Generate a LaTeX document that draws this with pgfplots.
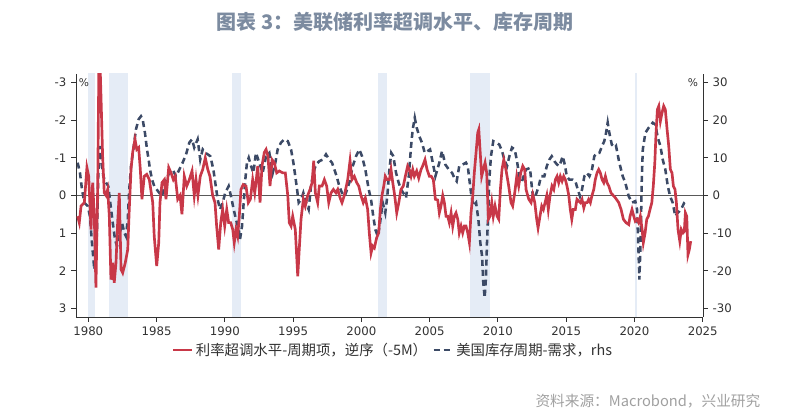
\documentclass[border=0pt]{standalone}
\usepackage{fontspec}
\usepackage{pgfplots}
\pgfplotsset{compat=1.18}
\newfontfamily\dejavu{DejaVu Sans}
\newfontfamily\cjk{Noto Sans CJK SC}
\definecolor{redline}{RGB}{200,56,72}
\definecolor{blueline}{RGB}{60,74,102}
\definecolor{recess}{RGB}{229,236,246}
\definecolor{titlec}{RGB}{124,139,160}
\definecolor{srcc}{RGB}{160,160,160}
\definecolor{axc}{RGB}{50,50,50}
\begin{document}
\begin{tikzpicture}
\useasboundingbox (0,0) rectangle (593.25pt,315pt);
\pgfplotsset{base/.style={
  scale only axis, width=470.25pt, height=182.25pt,
  at={(57pt,77.25pt)}, anchor=south west,
  xmin=1979.1, xmax=2025.02,
  axis line style={draw=axc, line width=0.7pt},
  tick style={draw=axc, line width=0.7pt},
  major tick length=3.75pt, tick align=outside,
  ticklabel style={font=\dejavu\fontsize{8.8}{10}\selectfont, text=axc},
  /pgf/number format/assume math mode=true,
  /pgf/number format/1000 sep={},
}}
% right axis: inventory cycle (blue dashed) + recessions
\begin{axis}[base, axis y line*=right, axis x line*=bottom,
  ymin=-32.2, ymax=32.2, ytick={-30,-20,...,30},
  xtick={1980,1985,...,2025}]
\addplot[fill=recess, draw=none, forget plot] coordinates {(1980.0,-40) (1980.5,-40) (1980.5,40) (1980.0,40)} -- cycle;
\addplot[fill=recess, draw=none, forget plot] coordinates {(1981.55,-40) (1982.9,-40) (1982.9,40) (1981.55,40)} -- cycle;
\addplot[fill=recess, draw=none, forget plot] coordinates {(1990.5,-40) (1991.15,-40) (1991.15,40) (1990.5,40)} -- cycle;
\addplot[fill=recess, draw=none, forget plot] coordinates {(2001.2,-40) (2001.85,-40) (2001.85,40) (2001.2,40)} -- cycle;
\addplot[fill=recess, draw=none, forget plot] coordinates {(2007.92,-40) (2009.4,-40) (2009.4,40) (2007.92,40)} -- cycle;
\addplot[fill=recess, draw=none, forget plot] coordinates {(2020.05,-40) (2020.22,-40) (2020.22,40) (2020.05,40)} -- cycle;
\addplot[black!65, line width=0.6pt, forget plot] coordinates {(1979.1,0) (2025.02,0)};
\addplot[blueline, line width=1.9pt, dash pattern=on 4.5pt off 3pt, forget plot] coordinates {
(1979.22,8.7)(1979.39,6.0)(1979.54,1.6)(1979.71,-1.9)(1979.96,-2.8)(1980.12,-5.5)(1980.27,-12.5)(1980.44,-19.6)(1980.56,-16.1)(1980.64,-9.0)(1980.73,5.1)(1980.86,13.1)(1980.98,8.7)(1981.10,5.1)(1981.30,3.4)(1981.46,2.5)(1981.61,-1.9)(1981.79,-7.2)(1981.96,-11.7)(1982.10,-13.4)(1982.27,-10.8)(1982.47,-7.2)(1982.64,-9.9)(1982.76,-10.8)(1982.89,-6.4)(1983.00,1.6)(1983.13,7.8)(1983.30,12.2)(1983.49,17.5)(1983.69,20.2)(1983.86,21.0)(1983.98,20.2)(1984.15,16.6)(1984.30,12.2)(1984.42,9.5)(1984.52,6.9)(1984.67,4.2)(1984.83,2.5)(1985.01,1.6)(1985.20,0.7)(1985.40,-0.2)(1985.57,2.5)(1985.69,4.2)(1985.93,6.0)(1986.18,6.9)(1986.42,5.1)(1986.67,6.9)(1986.91,8.7)(1987.16,10.9)(1987.40,14.0)(1987.60,14.9)(1987.76,12.7)(1988.01,14.9)(1988.20,9.5)(1988.38,12.2)(1988.57,11.3)(1988.75,10.9)(1988.94,10.4)(1989.16,6.9)(1989.30,3.4)(1989.48,-1.1)(1989.65,-3.7)(1989.84,-1.9)(1990.03,0.7)(1990.28,2.5)(1990.45,-0.2)(1990.65,-3.7)(1990.82,-6.4)(1991.02,-9.0)(1991.11,-11.7)(1991.26,-8.1)(1991.38,-1.9)(1991.50,4.2)(1991.62,8.7)(1991.75,10.0)(1991.92,7.8)(1992.09,6.0)(1992.28,11.3)(1992.52,8.7)(1992.77,6.0)(1993.02,10.4)(1993.26,11.3)(1993.51,6.0)(1993.70,8.7)(1993.87,12.2)(1994.11,14.0)(1994.36,14.9)(1994.61,14.4)(1994.85,12.2)(1995.02,8.7)(1995.16,5.1)(1995.29,1.6)(1995.41,-1.9)(1995.58,-1.1)(1995.75,0.7)(1995.95,-1.9)(1996.14,-3.7)(1996.31,2.5)(1996.48,6.0)(1996.68,8.2)(1996.92,9.1)(1997.17,9.5)(1997.41,10.9)(1997.65,9.5)(1997.85,8.7)(1998.02,6.9)(1998.19,5.1)(1998.38,2.5)(1998.58,0.7)(1998.78,-0.2)(1999.12,3.4)(1999.37,7.8)(1999.61,10.4)(1999.85,12.2)(2000.05,10.4)(2000.29,6.9)(2000.54,1.6)(2000.71,-1.1)(2000.87,-5.5)(2001.02,-9.0)(2001.20,-10.8)(2001.37,-7.2)(2001.56,-1.9)(2001.75,-4.6)(2001.90,-0.2)(2002.05,6.9)(2002.19,11.3)(2002.34,10.4)(2002.54,6.0)(2002.73,3.4)(2002.90,1.6)(2003.07,0.7)(2003.27,-0.6)(2003.47,5.1)(2003.64,13.1)(2003.76,17.5)(2003.91,20.6)(2004.05,18.0)(2004.24,15.7)(2004.44,14.0)(2004.64,11.3)(2004.86,11.8)(2005.03,12.2)(2005.23,8.7)(2005.42,5.1)(2005.71,8.7)(2005.91,11.8)(2006.15,8.2)(2006.40,6.9)(2006.64,6.0)(2006.81,4.7)(2006.98,3.8)(2007.17,7.8)(2007.42,8.2)(2007.66,8.7)(2007.79,7.8)(2007.91,4.2)(2008.03,0.7)(2008.20,-2.8)(2008.40,-1.9)(2008.57,-6.4)(2008.71,-12.5)(2008.84,-16.1)(2008.93,-23.2)(2009.03,-27.1)(2009.13,-21.4)(2009.20,-12.5)(2009.30,-3.7)(2009.37,4.2)(2009.49,10.4)(2009.66,14.4)(2009.86,14.0)(2010.10,13.5)(2010.30,11.8)(2010.47,9.5)(2010.67,7.8)(2010.84,10.4)(2011.03,12.7)(2011.23,12.2)(2011.38,9.5)(2011.57,5.1)(2011.77,3.8)(2011.96,6.0)(2012.06,6.9)(2012.35,7.3)(2012.50,1.6)(2012.59,-0.6)(2012.79,0.3)(2012.99,2.5)(2013.16,5.1)(2013.40,5.1)(2013.58,7.8)(2013.77,9.5)(2013.94,10.4)(2014.13,9.1)(2014.33,8.2)(2014.50,7.8)(2014.75,10.4)(2014.92,7.8)(2015.04,5.1)(2015.23,4.2)(2015.48,4.2)(2015.67,3.8)(2015.85,1.6)(2016.01,-0.2)(2016.16,1.6)(2016.33,5.1)(2016.51,6.0)(2016.70,5.1)(2016.89,6.9)(2017.06,10.4)(2017.24,11.3)(2017.43,11.3)(2017.63,13.1)(2017.79,14.4)(2017.92,16.6)(2018.04,19.3)(2018.16,16.6)(2018.34,13.5)(2018.56,12.7)(2018.65,13.1)(2018.89,8.7)(2019.14,5.1)(2019.33,3.4)(2019.58,-0.2)(2019.82,-1.9)(2020.06,-1.5)(2020.19,-3.7)(2020.26,-10.8)(2020.36,-22.3)(2020.46,-10.8)(2020.53,3.4)(2020.61,12.2)(2020.80,16.6)(2021.05,18.0)(2021.34,19.3)(2021.53,18.8)(2021.71,15.3)(2021.90,13.1)(2022.07,9.5)(2022.26,6.9)(2022.44,2.5)(2022.61,-0.2)(2022.80,-1.9)(2022.99,-5.5)(2023.17,-4.6)(2023.41,-3.7)(2023.65,-1.9)(2023.77,-1.5)
};
\node[font=\dejavu\fontsize{8}{9}\selectfont, text=axc] at (rel axis cs:0.984,0.965) {\%};
\end{axis}
% left axis: rate overshoot (red, reversed)
\begin{axis}[base, axis y line*=left, axis x line=none, y dir=reverse,
  ymin=-3.22, ymax=3.22, ytick={-3,-2,-1,0,1,2,3},
  legend style={at={(axis description cs:0.506,-0.136)}, anchor=center, draw=none, fill=none,
    font=\cjk\fontsize{10.8}{12}\selectfont, text=axc,
    /tikz/every even column/.append style={column sep=2pt}},
  legend columns=2,
  legend image code/.code={\draw[#1] (0pt,0pt) -- (14pt,0pt);}]
\addplot[redline, line width=2pt] coordinates {
(1979.22,0.55)(1979.34,0.72)(1979.47,0.28)(1979.71,0.19)(1979.90,-0.74)(1980.03,-0.51)(1980.20,0.9)(1980.32,-0.34)(1980.44,0.55)(1980.56,2.44)(1980.69,-0.25)(1980.78,-3.6)(1980.86,-3.5)(1980.93,-2.63)(1981.05,-1.04)(1981.17,-0.07)(1981.30,0)(1981.42,-0.16)(1981.54,0.55)(1981.66,2.23)(1981.79,1.78)(1981.90,2.31)(1982.03,1.78)(1982.15,0.72)(1982.27,-0.07)(1982.40,1.96)(1982.52,2.05)(1982.71,1.78)(1982.89,1.43)(1983.00,0.37)(1983.13,-0.69)(1983.25,-1.14)(1983.42,-1.49)(1983.55,-1.22)(1983.69,-1.27)(1983.81,-0.69)(1983.93,0.1)(1984.10,-0.51)(1984.28,-0.56)(1984.47,-0.42)(1984.72,0.19)(1984.83,1.08)(1985.01,1.87)(1985.16,1.25)(1985.25,0.19)(1985.40,-0.34)(1985.57,-0.42)(1985.69,0.1)(1985.89,-0.74)(1986.06,-0.6)(1986.23,-0.42)(1986.37,-0.51)(1986.55,0.1)(1986.72,0)(1986.86,0.5)(1987.03,-0.51)(1987.21,-0.25)(1987.40,-0.42)(1987.60,-0.65)(1987.76,0)(1987.89,-0.42)(1988.03,0)(1988.20,-0.51)(1988.38,-0.69)(1988.57,-1.0)(1988.75,-0.69)(1988.91,-0.51)(1989.11,0)(1989.28,0.19)(1989.40,0.81)(1989.55,1.43)(1989.70,0.72)(1989.84,0.37)(1989.99,0.81)(1990.14,0.37)(1990.28,0.72)(1990.43,0.72)(1990.58,0.9)(1990.69,1.25)(1990.82,0.9)(1990.94,1.08)(1991.06,0.55)(1991.18,-0.16)(1991.35,-0.29)(1991.55,-0.25)(1991.72,0.19)(1991.87,0.1)(1992.04,-0.42)(1992.19,-0.07)(1992.28,-0.34)(1992.41,-0.78)(1992.58,0.19)(1992.72,-0.78)(1992.89,-1.14)(1993.02,-1.22)(1993.16,-1.04)(1993.31,-0.25)(1993.46,-0.95)(1993.62,-0.87)(1993.80,-0.6)(1993.99,-0.65)(1994.24,-0.6)(1994.43,-0.6)(1994.61,0)(1994.72,0.72)(1994.85,0.81)(1994.97,0.55)(1995.16,0.9)(1995.34,2.14)(1995.45,1.43)(1995.58,0.63)(1995.75,0.1)(1995.89,0.28)(1996.07,0)(1996.24,-0.16)(1996.39,-0.34)(1996.51,-0.92)(1996.63,-0.07)(1996.80,0.19)(1996.92,-0.25)(1997.12,-0.25)(1997.29,-0.42)(1997.46,-0.25)(1997.61,0.19)(1997.78,-0.07)(1997.95,-0.16)(1998.14,-0.07)(1998.27,-0.16)(1998.44,0.06)(1998.58,0.19)(1998.75,0)(1999.00,-0.42)(1999.17,-0.92)(1999.31,-0.42)(1999.48,-0.51)(1999.66,-0.34)(1999.81,-0.25)(1999.97,0)(2000.14,0.19)(2000.29,0.06)(2000.46,0.37)(2000.58,0.99)(2000.71,1.52)(2000.83,1.34)(2000.95,1.39)(2001.12,1.12)(2001.27,0.99)(2001.39,0.37)(2001.51,0)(2001.64,-0.25)(2001.75,-0.51)(2001.88,-0.42)(2002.05,-0.42)(2002.17,-0.69)(2002.30,-0.34)(2002.44,0)(2002.59,0.46)(2002.74,0.19)(2002.90,-0.16)(2003.07,-0.25)(2003.22,-0.51)(2003.39,-0.78)(2003.51,-0.69)(2003.64,-0.51)(2003.76,-0.69)(2003.88,-0.51)(2004.05,-0.65)(2004.20,-0.46)(2004.37,-0.69)(2004.49,-0.78)(2004.66,-0.95)(2004.81,-0.69)(2004.98,-0.51)(2005.12,-0.51)(2005.27,-0.42)(2005.42,0.1)(2005.59,0.12)(2005.71,0.46)(2005.83,0.28)(2005.96,0)(2006.08,0.19)(2006.20,0.55)(2006.32,0.55)(2006.44,0.72)(2006.57,0.46)(2006.69,0.81)(2006.81,0.55)(2006.93,0.46)(2007.06,0.63)(2007.17,0.99)(2007.30,0.81)(2007.42,0.99)(2007.54,0.81)(2007.66,0.81)(2007.79,0.99)(2007.91,1.25)(2008.03,0.46)(2008.16,0)(2008.27,-0.6)(2008.40,-1.14)(2008.52,-1.66)(2008.60,-1.75)(2008.69,-1.22)(2008.81,-0.51)(2008.93,-0.69)(2009.06,-0.87)(2009.18,-0.6)(2009.30,0.63)(2009.42,0.55)(2009.55,0.19)(2009.66,0.55)(2009.79,0.28)(2009.94,0.55)(2010.06,0.63)(2010.18,-0.16)(2010.30,-0.69)(2010.43,-0.95)(2010.54,-0.78)(2010.67,-0.51)(2010.79,-0.25)(2010.96,0.19)(2011.08,0.28)(2011.23,-0.07)(2011.38,-0.51)(2011.52,-0.25)(2011.67,-0.6)(2011.82,-0.78)(2011.96,-0.69)(2012.06,-0.16)(2012.26,0.1)(2012.43,0.19)(2012.55,-0.03)(2012.70,0.19)(2012.84,0.63)(2012.94,0.86)(2013.08,0.55)(2013.21,0.28)(2013.33,0.37)(2013.45,0.19)(2013.58,0)(2013.69,0.37)(2013.82,0)(2013.96,-0.25)(2014.09,-0.16)(2014.21,-0.42)(2014.33,-0.51)(2014.45,-0.34)(2014.57,-0.51)(2014.70,-0.38)(2014.82,-0.51)(2014.94,-0.42)(2015.06,-0.25)(2015.19,0)(2015.30,0.37)(2015.41,0.63)(2015.52,0.37)(2015.67,0.37)(2015.79,0.1)(2015.92,0.15)(2016.04,0.19)(2016.16,0.1)(2016.29,0.33)(2016.40,0.19)(2016.53,0.19)(2016.65,0.1)(2016.77,0.19)(2016.89,0)(2017.02,-0.16)(2017.13,-0.42)(2017.26,-0.6)(2017.38,-0.69)(2017.50,-0.6)(2017.63,-0.42)(2017.75,-0.34)(2017.87,-0.51)(2017.99,-0.34)(2018.12,-0.25)(2018.28,-0.07)(2018.45,0)(2018.60,0.06)(2018.85,0.19)(2019.02,0.37)(2019.19,0.63)(2019.38,0.72)(2019.58,0.77)(2019.68,0.55)(2019.82,0.37)(2019.95,0.55)(2020.06,0.68)(2020.19,0.63)(2020.31,0.72)(2020.43,0.55)(2020.56,0.9)(2020.65,1.25)(2020.78,0.99)(2020.90,0.63)(2021.02,0.55)(2021.14,0.37)(2021.27,0.19)(2021.38,-0.25)(2021.49,-0.87)(2021.58,-1.66)(2021.68,-2.28)(2021.78,-2.37)(2021.90,-1.97)(2022.02,-2.19)(2022.14,-2.37)(2022.26,-2.28)(2022.39,-1.75)(2022.51,-1.31)(2022.63,-0.69)(2022.75,-0.6)(2022.85,-0.25)(2022.97,-0.16)(2023.07,0.19)(2023.19,0.9)(2023.32,1.21)(2023.43,0.9)(2023.56,0.99)(2023.65,0.95)(2023.73,0.46)(2023.83,0.55)(2023.92,1.57)(2024.02,1.43)(2024.12,1.21)
};
\addlegendentry{利率超调水平-周期项，逆序（-5M）}
\addlegendimage{blueline, line width=1.9pt, dash pattern=on 4.5pt off 3pt}
\addlegendentry{美国库存周期-需求，rhs}
\node[font=\dejavu\fontsize{8}{9}\selectfont, text=axc] at (rel axis cs:0.0128,0.965) {\%};
\end{axis}
\node[font=\cjk\bfseries\fontsize{15}{18}\selectfont, text=titlec] at (296.25pt,298.5pt) {图表 3：美联储利率超调水平、库存周期};
\node[font=\cjk\fontsize{11}{13}\selectfont, text=srcc, anchor=east] at (573.75pt,14.25pt) {资料来源：Macrobond，兴业研究};
\end{tikzpicture}
\end{document}
